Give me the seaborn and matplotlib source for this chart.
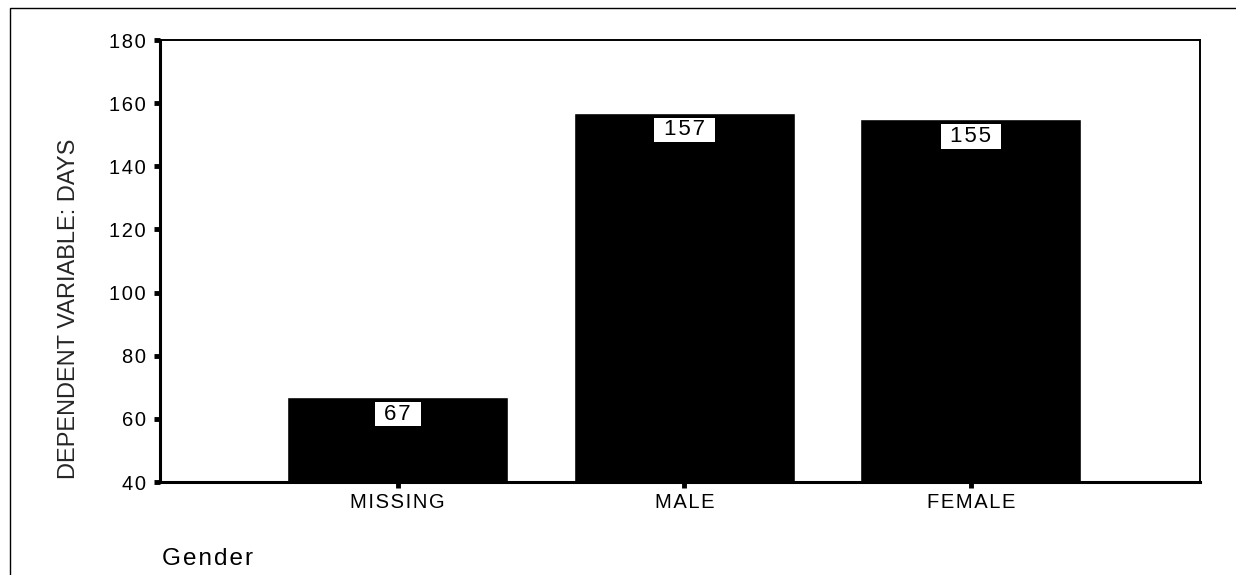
import matplotlib
matplotlib.use('Agg')
import matplotlib.pyplot as plt
import matplotlib.patches as patches
import seaborn as sns
import pandas as pd

# data
categories = ['MISSING', 'MALE', 'FEMALE']
days = [67, 157, 155]
y_ticks = [40, 60, 80, 100, 120, 140, 160, 180]

df = pd.DataFrame({'Gender': categories, 'Days': days})


def spaced(s, gap='\u200a'):
    # the scanned chart uses slightly wide letter spacing
    return gap.join(s)


sns.set_style('white')
plt.rcParams['font.family'] = ['Liberation Sans', 'DejaVu Sans']
plt.rcParams['text.color'] = 'black'
plt.rcParams['xtick.color'] = 'black'
plt.rcParams['ytick.color'] = 'black'

fig = plt.figure(figsize=(12.36, 5.75), dpi=100)
ax = fig.add_axes([160 / 1236, 1 - 482 / 575, 1040 / 1236, 442 / 575])

sns.barplot(data=df, x='Gender', y='Days', color='black', width=0.77,
            saturation=1, ax=ax)

ax.set_ylim(40, 180)
ax.set_xlim(-0.83, 2.80)
ax.set_yticks(y_ticks)
ax.set_yticklabels([spaced(str(t)) for t in y_ticks], fontsize=14.5)
ax.set_xticks(range(len(categories)))
ax.set_xticklabels([spaced(c) for c in categories], fontsize=14.5)
ax.set_xlabel('')
ax.set_ylabel('DEPENDENT VARIABLE: DAYS', fontsize=17)
ax.yaxis.set_label_coords((80 - 160) / 1040, (482 - 309) / 442)

for side in ['left', 'bottom']:
    ax.spines[side].set_linewidth(2.2)
    ax.spines[side].set_color('black')
for side in ['top', 'right']:
    ax.spines[side].set_visible(True)
    ax.spines[side].set_linewidth(1.4)
    ax.spines[side].set_color('black')
ax.tick_params(axis='both', left=True, bottom=True, direction='out',
               length=4, width=3.5, color='black')
ax.tick_params(axis='y', pad=6)
ax.tick_params(axis='x', pad=4)

# value labels in white boxes just below the bar top
for i, v in enumerate(days):
    ax.annotate(' \u200a' + spaced(str(v)) + '\u200a ', (i, v), xytext=(0, -12.5),
                textcoords='offset points', ha='center', va='center',
                fontsize=16,
                bbox=dict(boxstyle='square,pad=0.08', fc='white', ec='none'))

# category title under the axis
fig.text(162 / 1236, 1 - 565 / 575, spaced('Gender'), fontsize=17.5,
         ha='left', va='baseline')

# outer frame, open to the right and bottom like the scan
fig.patches.append(patches.Rectangle((10 / 1236, -0.1), 1.2, 1 - 8 / 575 + 0.1,
                                     transform=fig.transFigure, fill=False,
                                     ec='black', lw=1, figure=fig))

plt.savefig('out.png', dpi=100)
